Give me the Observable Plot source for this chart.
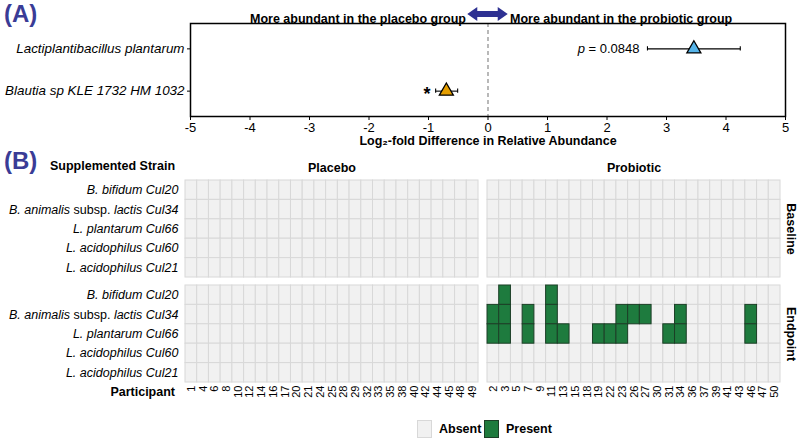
<!DOCTYPE html>
<html><head><meta charset="utf-8">
<script src="https://cdn.jsdelivr.net/npm/d3@7"></script>
<script src="https://cdn.jsdelivr.net/npm/@observablehq/plot@0.6"></script>
<style>
body{margin:0;background:#fff;font-family:"Liberation Sans",Arial,sans-serif;}
#wrap{position:relative;width:800px;height:443px;overflow:hidden;background:#fff;}
.abs{position:absolute;}
.tag{font-weight:bold;color:#3a3c96;font-size:24px;line-height:24px;}
.hdr{font-weight:bold;font-size:12.5px;color:#000;white-space:nowrap;}
.sw{position:absolute;width:15px;height:18px;box-sizing:border-box;}
</style></head><body><div id="wrap"></div>
<script>
const FONT = '"Liberation Sans", Arial, sans-serif';

// ---- Panel A data ----
const taxa = ["Lactiplantibacillus plantarum", "Blautia sp KLE 1732 HM 1032"];
const log2fc = [3.46, -0.70];
const ciLow = [2.68, -0.88];
const ciHigh = [4.24, -0.51];
const annotations = ["p = 0.0848", "*"];
const taxaColors = ["#56B4E9", "#E69F00"];
const xTicksA = [-5, -4, -3, -2, -1, 0, 1, 2, 3, 4, 5];

// ---- Panel B data ----
const strains = ["B. bifidum Cul20", "B. animalis subsp. lactis Cul34", "L. plantarum Cul66", "L. acidophilus Cul60", "L. acidophilus Cul21"];
const timepoints = ["Baseline", "Endpoint"];
const groups = ["Placebo", "Probiotic"];
const placeboParticipants = [1,4,6,8,10,12,14,16,17,20,21,24,25,28,29,32,33,35,38,40,42,44,45,48,49];
const probioticParticipants = [2,3,5,7,9,11,13,15,18,19,22,23,26,27,30,31,34,36,37,39,41,43,46,47,50];
// participants with the strain detected at endpoint (none detected at baseline or in placebo)
const endpointCul20 = [3, 11];
const endpointCul34 = [2, 3, 7, 11, 23, 26, 27, 34, 46];
const endpointCul66 = [2, 3, 7, 11, 13, 19, 22, 23, 31, 34, 46];
const endpointCul60 = [];
const endpointCul21 = [];
const baselineDetected = [[], [], [], [], []];
const endpointDetected = [endpointCul20, endpointCul34, endpointCul66, endpointCul60, endpointCul21];

const wrap = document.getElementById("wrap");
function addDiv(html, cls, style) {
  const d = document.createElement("div");
  d.className = "abs " + cls;
  d.innerHTML = html;
  Object.assign(d.style, style);
  wrap.appendChild(d);
  return d;
}

// ---------- Panel A ----------
const aRows = taxa.map((t, i) => ({taxon: t, row: i + 1, fc: log2fc[i], lo: ciLow[i], hi: ciHigh[i], note: annotations[i], color: taxaColors[i]}));
const arrowHalf = 0.34;
const plotA = Plot.plot({
  width: 800, height: 150,
  marginTop: 23, marginBottom: 34, marginLeft: 190, marginRight: 15,
  style: {fontFamily: FONT, fontSize: "12.5px", color: "#000", background: "transparent", overflow: "visible"},
  x: {domain: [-5, 5], ticks: xTicksA, tickFormat: d => String(d), tickSize: 4, tickPadding: 2, label: null},
  y: {domain: [0.4, 2.6], reverse: true, ticks: [1, 2], tickFormat: i => taxa[i - 1], tickSize: 3, tickPadding: 3, label: null},
  marks: [
    Plot.ruleX([0], {stroke: "#8a8a8a", strokeDasharray: "4,3", strokeWidth: 1.2}),
    Plot.link(aRows, {x1: "lo", x2: "hi", y1: "row", y2: "row", stroke: "#000", strokeWidth: 1.1}),
    Plot.ruleX(aRows, {x: "lo", y1: d => d.row - 0.05, y2: d => d.row + 0.05, stroke: "#000", strokeWidth: 1.1}),
    Plot.ruleX(aRows, {x: "hi", y1: d => d.row - 0.05, y2: d => d.row + 0.05, stroke: "#000", strokeWidth: 1.1}),
    Plot.dot(aRows, {x: "fc", y: "row", symbol: "triangle", r: 5.2, fill: "color", stroke: "#000", strokeWidth: 1.3}),
    Plot.text(aRows.filter(d => d.note !== "*"), {x: "lo", y: "row", text: "note", textAnchor: "end", dx: -8, fontSize: 13}),
    Plot.text(aRows.filter(d => d.note === "*"), {x: "lo", y: "row", text: "note", textAnchor: "end", dx: -5, dy: 3, fontSize: 18, fontWeight: "bold"}),
    Plot.text(["More abundant in the placebo group"], {x: 0, frameAnchor: "top", dy: -9, dx: -22, textAnchor: "end", fontWeight: "bold", fontSize: 12.5}),
    Plot.text(["More abundant in the probiotic group"], {x: 0, frameAnchor: "top", dy: -9, dx: 22, textAnchor: "start", fontWeight: "bold", fontSize: 12.5}),
    (index, scales, values, dims) => {
      const cx = scales.x(0), h = scales.x(arrowHalf) - scales.x(0), cy = dims.marginTop - 9;
      const p = document.createElementNS("http://www.w3.org/2000/svg", "path");
      const s = 2 * h - 20;
      p.setAttribute("d", `M${cx - h},${cy} l10,-7 v4 h${s} v-4 l10,7 l-10,7 v-4 h${-s} v4 z`);
      p.setAttribute("fill", "#2e3192");
      return p;
    },
    Plot.text(["Log₂-fold Difference in Relative Abundance"], {frameAnchor: "bottom", dy: 28, fontWeight: "bold", fontSize: 12.5}),
    Plot.frame({stroke: "#000", strokeWidth: 1.5})
  ]
});
plotA.style.position = "absolute"; plotA.style.left = "0px"; plotA.style.top = "0px";
wrap.appendChild(plotA);
plotA.querySelectorAll('[aria-label="y-axis tick label"]').forEach(g => { g.setAttribute("font-style", "italic"); g.setAttribute("font-size", "13.4px"); });
plotA.querySelectorAll('[aria-label="y-axis tick label"] text').forEach(t => { t.setAttribute("font-style", "italic"); t.setAttribute("font-size", "13.4px"); });
plotA.querySelectorAll('[aria-label="x-axis tick label"]').forEach(g => { g.setAttribute("font-size", "13px"); g.style.fontSize = "13px"; });
plotA.querySelectorAll('[aria-label="x-axis tick label"] text').forEach(t => { t.setAttribute("font-size", "13px"); t.style.fontSize = "13px"; });
plotA.querySelectorAll("text").forEach(t => {
  if (t.textContent === "p = 0.0848") t.innerHTML = '<tspan font-style="italic">p</tspan> = 0.0848';
});

// ---------- Panel B ----------
function rowsFor(group, ids) {
  const out = [];
  timepoints.forEach((tp, ti) => {
    const det = ti === 0 ? baselineDetected : endpointDetected;
    strains.forEach((s, si) => {
      ids.forEach(p => {
        out.push({group, time: tp, strain: s, participant: String(p),
          present: group === "Probiotic" && det[si].includes(p)});
      });
    });
  });
  return out;
}

function heat(group, ids, opts) {
  const rows = rowsFor(group, ids);
  const marks = [
    Plot.cell(rows.filter(d => !d.present), {x: "participant", y: "strain", fx: "group", fy: "time", fill: "#f1f1f1", stroke: "#d8d8d8", strokeWidth: 1}),
    Plot.cell(rows.filter(d => d.present), {x: "participant", y: "strain", fx: "group", fy: "time", fill: "#1e7b3e", stroke: "#1c3f27", strokeWidth: 1})
  ];
  if (opts.showFy) {
    marks.push(Plot.text(timepoints.map(t => ({group, time: t})), {fx: "group", fy: "time", text: "time", frameAnchor: "right", textAnchor: "middle", lineAnchor: "middle", dx: 10, rotate: 90, fontWeight: "bold", fontSize: 12.5}));
  }
  const svg = Plot.plot({
    width: opts.width, height: 255,
    marginTop: 30, marginBottom: 23, marginLeft: opts.mL, marginRight: opts.mR,
    style: {fontFamily: FONT, fontSize: "12.5px", color: "#000", background: "transparent", overflow: "visible"},
    x: {domain: ids.map(String), padding: 0, round: false, tickSize: 0, tickRotate: -90, tickPadding: 3, label: null},
    y: {domain: strains, padding: 0, round: false, axis: opts.showY ? "left" : null, tickSize: 0, tickPadding: 7, label: null},
    fx: {domain: [group], padding: 0, round: false, label: null, axis: "top", tickSize: 0, tickPadding: 9},
    fy: {domain: timepoints, paddingInner: 0.076, paddingOuter: 0, round: false, label: null, axis: null},
    marks
  });
  svg.style.position = "absolute"; svg.style.left = opts.left + "px"; svg.style.top = "150px";
  wrap.appendChild(svg);
  svg.querySelectorAll('[aria-label="x-axis tick label"]').forEach(g => g.setAttribute("font-size", "11px"));
  svg.querySelectorAll('[aria-label="x-axis tick label"] text').forEach(t => t.setAttribute("font-size", "11px"));
  svg.querySelectorAll('[aria-label="y-axis tick label"] text').forEach(t => {
    t.setAttribute("font-style", "italic");
    t.setAttribute("font-size", "12.5px");
    if (t.textContent === "B. animalis subsp. lactis Cul34")
      t.innerHTML = '<tspan font-style="italic">B. animalis</tspan><tspan font-style="normal"> subsp. </tspan><tspan font-style="italic">lactis Cul34</tspan>';
  });
  svg.querySelectorAll('[aria-label^="fx-axis"] text').forEach(t => { t.setAttribute("font-weight", "bold"); t.setAttribute("font-size", "12.5px"); });
  return svg;
}

heat("Placebo", placeboParticipants, {width: 478, mL: 185, mR: 0, showY: true, showFy: false, left: 0});
heat("Probiotic", probioticParticipants, {width: 313, mL: 0, mR: 20, showY: false, showFy: true, left: 487});

// ---------- HTML labels ----------
addDiv("(A)", "tag", {left: "4px", top: "2px"});
addDiv("(B)", "tag", {left: "4px", top: "149px"});
addDiv("Supplemented Strain", "hdr", {left: "50px", top: "159px"});
addDiv("Participant", "hdr", {right: "625px", top: "385px"});

// legend
const legendItems = [{label: "Absent", fill: "#f1f1f1", stroke: "#d8d8d8", left: 417}, {label: "Present", fill: "#1e7b3e", stroke: "#1c3f27", left: 484}];
legendItems.forEach(it => {
  const s = addDiv("", "", {left: it.left + "px", top: "420px"});
  s.className = "sw";
  s.style.background = it.fill; s.style.border = "1px solid " + it.stroke;
  addDiv(it.label, "hdr", {left: (it.left + 22) + "px", top: "422px"});
});
</script></body></html>
